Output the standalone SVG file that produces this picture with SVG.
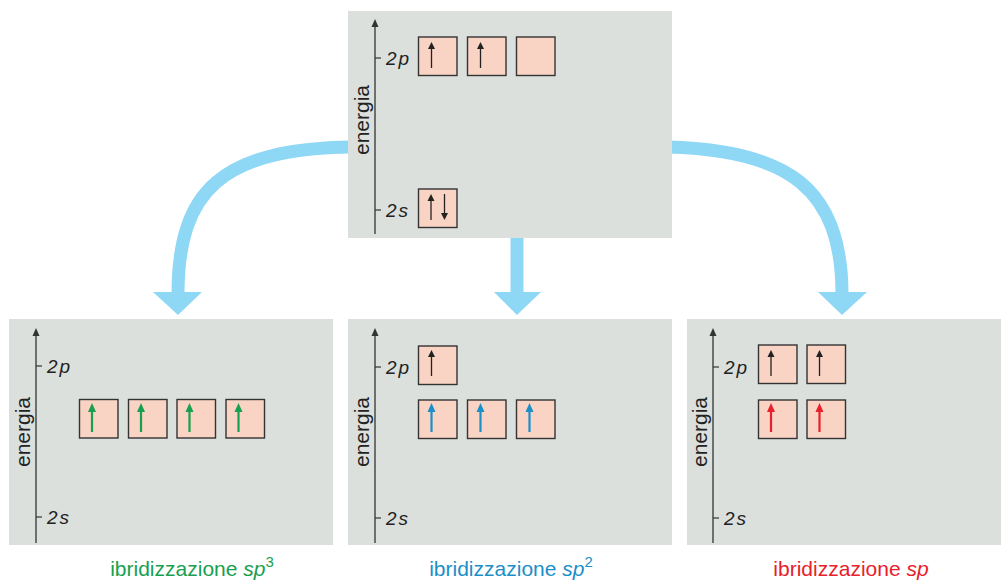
<svg xmlns="http://www.w3.org/2000/svg" width="1001" height="581" viewBox="0 0 1001 581">
<style>
.panel{fill:#dbe0dd}
.axis{stroke:#333;stroke-width:1.3;fill:none}
.tick{stroke:#333;stroke-width:1.2}
.box{fill:#f9d3c3;stroke:#333;stroke-width:1.4}
.lvl{font-family:"Liberation Sans",Arial,sans-serif;font-size:19px;font-style:italic;fill:#222;letter-spacing:2px}
.en{font-family:"Liberation Sans",Arial,sans-serif;font-size:21px;fill:#222}
.lab{font-family:"Liberation Sans",Arial,sans-serif;font-size:21px}
.e{stroke:#222;stroke-width:1.3}
.conn{fill:none;stroke:#8ed8f6;stroke-width:13}
.head{fill:#8ed8f6}
</style>
<defs>
<g id="up"><line x1="0" y1="26" x2="0" y2="5" class="e"/><path d="M-3.5,7 L0,0 L3.5,7 Z" fill="#222"/></g>
<g id="dn"><line x1="0" y1="0" x2="0" y2="21" class="e"/><path d="M-3.5,19 L0,26 L3.5,19 Z" fill="#222"/></g>
<g id="axis"><line x1="0" y1="4" x2="0" y2="215" class="axis"/><path d="M-3.5,8 L0,0 L3.5,8 Z" fill="#333"/></g>
</defs>

<g id="connectors">
<path class="conn" d="M352,147 C222,149 178,190 178,294"/>
<path class="head" d="M153,292 L202,292 L178,315 Z"/>
<path class="conn" d="M517,236 L517,294"/>
<path class="head" d="M494,292 L541,292 L517,315 Z"/>
<path class="conn" d="M668,147 C790,150 842,190 842,294"/>
<path class="head" d="M818,292 L867,292 L842,315 Z"/>
</g>

<g id="top">
<rect class="panel" x="348" y="11" width="324" height="227"/>
<use href="#axis" x="375" y="19"/>
<line class="tick" x1="375" y1="58" x2="381" y2="58"/>
<line class="tick" x1="375" y1="210" x2="381" y2="210"/>
<text class="lvl" x="386" y="65">2p</text>
<text class="lvl" x="386" y="217">2s</text>
<text class="en" transform="translate(369,120) rotate(-90)" text-anchor="middle">energia</text>
<rect class="box" x="418.5" y="37" width="38.5" height="38.5"/>
<rect class="box" x="467.5" y="37" width="38.5" height="38.5"/>
<rect class="box" x="516.5" y="37" width="38.5" height="38.5"/>
<use href="#up" x="431.5" y="42"/>
<use href="#up" x="480.5" y="42"/>
<rect class="box" x="418.5" y="189" width="38.5" height="38.5"/>
<use href="#up" x="431" y="194"/>
<use href="#dn" x="444.5" y="194"/>
</g>

<g id="sp3">
<rect class="panel" x="9" y="319" width="324" height="226"/>
<use href="#axis" x="36" y="328"/>
<line class="tick" x1="36" y1="366" x2="42" y2="366"/>
<line class="tick" x1="36" y1="517" x2="42" y2="517"/>
<text class="lvl" x="47" y="373">2p</text>
<text class="lvl" x="47" y="524">2s</text>
<text class="en" transform="translate(30,432) rotate(-90)" text-anchor="middle">energia</text>
<rect class="box" x="79.5" y="399.5" width="38.5" height="38.5"/>
<rect class="box" x="128.5" y="399.5" width="38.5" height="38.5"/>
<rect class="box" x="177" y="399.5" width="38.5" height="38.5"/>
<rect class="box" x="226" y="399.5" width="38.5" height="38.5"/>
<g fill="#17a050">
<line x1="92" y1="432" x2="92" y2="410" stroke="#17a050" stroke-width="2.2"/><path d="M88,412 L92,403 L96,412 Z"/>
<line x1="141" y1="432" x2="141" y2="410" stroke="#17a050" stroke-width="2.2"/><path d="M137,412 L141,403 L145,412 Z"/>
<line x1="189.5" y1="432" x2="189.5" y2="410" stroke="#17a050" stroke-width="2.2"/><path d="M185.5,412 L189.5,403 L193.5,412 Z"/>
<line x1="238.5" y1="432" x2="238.5" y2="410" stroke="#17a050" stroke-width="2.2"/><path d="M234.5,412 L238.5,403 L242.5,412 Z"/>
</g>
<text class="lab" x="192" y="576" text-anchor="middle" fill="#17a050">ibridizzazione <tspan font-style="italic">sp</tspan><tspan font-size="15" dy="-9">3</tspan></text>
</g>

<g id="sp2">
<rect class="panel" x="348" y="319" width="324" height="226"/>
<use href="#axis" x="375" y="328"/>
<line class="tick" x1="375" y1="367" x2="381" y2="367"/>
<line class="tick" x1="375" y1="518" x2="381" y2="518"/>
<text class="lvl" x="386" y="374">2p</text>
<text class="lvl" x="386" y="525">2s</text>
<text class="en" transform="translate(369,432) rotate(-90)" text-anchor="middle">energia</text>
<rect class="box" x="418.5" y="346" width="38.5" height="38.5"/>
<use href="#up" x="431.5" y="350"/>
<rect class="box" x="418.5" y="400" width="38.5" height="38.5"/>
<rect class="box" x="467.5" y="400" width="38.5" height="38.5"/>
<rect class="box" x="516.5" y="400" width="38.5" height="38.5"/>
<g fill="#1b8fc8">
<line x1="431.5" y1="432" x2="431.5" y2="410" stroke="#1b8fc8" stroke-width="2.2"/><path d="M427.5,412 L431.5,403 L435.5,412 Z"/>
<line x1="480.5" y1="432" x2="480.5" y2="410" stroke="#1b8fc8" stroke-width="2.2"/><path d="M476.5,412 L480.5,403 L484.5,412 Z"/>
<line x1="529.5" y1="432" x2="529.5" y2="410" stroke="#1b8fc8" stroke-width="2.2"/><path d="M525.5,412 L529.5,403 L533.5,412 Z"/>
</g>
<text class="lab" x="511" y="576" text-anchor="middle" fill="#1b8fc8">ibridizzazione <tspan font-style="italic">sp</tspan><tspan font-size="15" dy="-9">2</tspan></text>
</g>

<g id="sp">
<rect class="panel" x="687" y="319" width="314" height="226"/>
<use href="#axis" x="713" y="328"/>
<line class="tick" x1="713" y1="367" x2="719" y2="367"/>
<line class="tick" x1="713" y1="518" x2="719" y2="518"/>
<text class="lvl" x="724" y="374">2p</text>
<text class="lvl" x="724" y="525">2s</text>
<text class="en" transform="translate(707,432) rotate(-90)" text-anchor="middle">energia</text>
<rect class="box" x="758.5" y="345" width="38.5" height="38.5"/>
<rect class="box" x="807" y="345" width="38.5" height="38.5"/>
<use href="#up" x="771" y="350"/>
<use href="#up" x="819.5" y="350"/>
<rect class="box" x="758.5" y="400" width="38.5" height="38.5"/>
<rect class="box" x="807" y="400" width="38.5" height="38.5"/>
<g fill="#e8202a">
<line x1="771" y1="432" x2="771" y2="410" stroke="#e8202a" stroke-width="2.2"/><path d="M767,412 L771,403 L775,412 Z"/>
<line x1="819.5" y1="432" x2="819.5" y2="410" stroke="#e8202a" stroke-width="2.2"/><path d="M815.5,412 L819.5,403 L823.5,412 Z"/>
</g>
<text class="lab" x="851" y="576" text-anchor="middle" fill="#e8202a">ibridizzazione <tspan font-style="italic">sp</tspan></text>
</g>
</svg>
